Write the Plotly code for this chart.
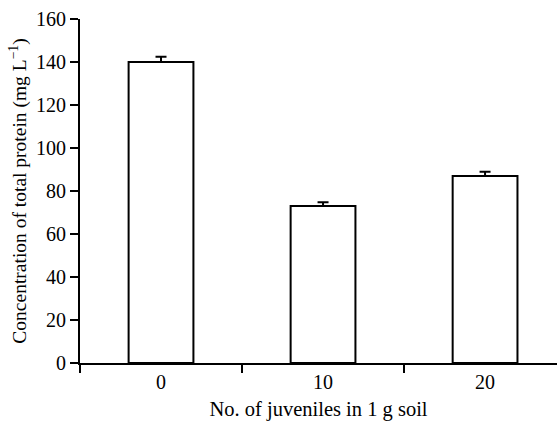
import plotly.graph_objects as go

# Juvenile density treatments and measured total protein
juveniles = ["0", "10", "20"]
protein = [140, 73, 87]
protein_err = [2.5, 1.8, 2.0]

FONT = "'Times New Roman', 'Liberation Serif', serif"

fig = go.Figure(
    go.Bar(
        x=juveniles,
        y=protein,
        width=0.4,
        marker=dict(color="white", line=dict(color="black", width=2)),
        error_y=dict(type="data", array=protein_err, symmetric=False,
                     arrayminus=[0, 0, 0], color="black", thickness=2, width=5.5),
        showlegend=False,
    )
)

fig.update_layout(
    width=557,
    height=421,
    margin=dict(l=80, r=0, t=19, b=58),
    paper_bgcolor="white",
    plot_bgcolor="white",
    font=dict(family=FONT, size=18, color="black"),
    xaxis=dict(
        type="category",
        range=[-0.5, 2.444],
        tickson="boundaries",
        ticks="outside",
        ticklen=8,
        tickwidth=2,
        tickcolor="black",
        tickfont=dict(family=FONT, size=20),
        showline=True,
        linecolor="black",
        linewidth=2,
        showgrid=False,
        zeroline=False,
        title=dict(text="No. of juveniles in 1 g soil", standoff=13,
                   font=dict(family=FONT, size=20.5)),
    ),
    yaxis=dict(
        range=[0, 160],
        tickvals=[0, 20, 40, 60, 80, 100, 120, 140, 160],
        ticks="outside",
        ticklen=8,
        tickwidth=2,
        tickcolor="black",
        tickfont=dict(family=FONT, size=20),
        showline=True,
        linecolor="black",
        linewidth=2,
        showgrid=False,
        zeroline=False,
        title=dict(text="Concentration of total protein (mg L<sup>−1</sup>)",
                   standoff=4, font=dict(family=FONT, size=19.5)),
    ),
)

fig.write_html("out.html")
